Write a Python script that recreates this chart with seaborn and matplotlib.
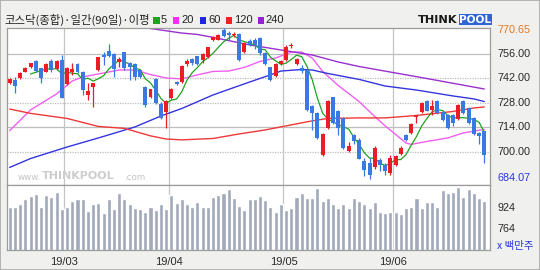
import numpy as np
import pandas as pd
import matplotlib
matplotlib.use("Agg")
import matplotlib.pyplot as plt
import matplotlib.transforms as mtransforms
from matplotlib.patches import Rectangle
import seaborn as sns

# ---------------- data ----------------
opens = [739.2, 741.1, 742.4, 745.9, 748.7, 752.0, 747.8, 745.9, 752.0, 747.2,
         752.6, 738.6, 745.9, 750.3, 745.9, 732.5, 736.9, 746.8, 755.4, 757.9,
         756.0, 751.6, 757.0, 750.6, 750.3, 746.8, 737.3, 731.5, 741.5, 727.3,
         722.9, 730.6, 740.1, 740.1, 750.1, 752.9, 754.7, 752.7, 754.1, 764.2,
         764.2, 770.0, 768.0, 766.7, 767.5, 757.1, 763.6, 764.2, 765.2, 756.6,
         748.4, 743.2, 750.3, 752.7, 760.6, 750.3, 748.0, 747.0, 726.0, 722.1,
         697.9, 713.5, 731.1, 723.1, 719.3, 700.5, 709.3, 706.9, 694.4, 693.5,
         691.0, 695.4, 692.5, 687.7, 692.5, 698.6, 709.3, 710.7, 720.0, 722.7,
         729.2, 724.1, 729.2, 722.7, 721.2, 721.2, 718.9, 729.2, 725.0, 719.3,
         710.7, 711.6]
highs = [742.0, 743.0, 745.5, 748.4, 751.0, 752.3, 748.0, 750.8, 752.9, 752.5,
         755.4, 748.4, 750.6, 750.6, 746.2, 739.2, 739.5, 754.5, 757.3, 761.7,
         756.5, 754.5, 757.3, 751.5, 751.0, 747.2, 737.6, 736.0, 742.0, 728.7,
         729.6, 736.2, 740.5, 749.7, 752.9, 753.5, 755.0, 756.3, 760.2, 766.2,
         767.6, 770.65, 769.0, 768.6, 768.0, 762.9, 764.6, 765.0, 765.6, 757.0,
         748.8, 750.8, 752.5, 761.4, 762.5, 753.7, 749.9, 747.6, 726.5, 722.5,
         710.5, 729.6, 731.5, 724.1, 719.8, 705.6, 710.1, 707.5, 696.3, 696.3,
         703.0, 696.5, 693.5, 698.0, 698.0, 703.0, 710.0, 716.4, 721.0, 728.5,
         729.6, 729.8, 729.6, 723.1, 721.6, 721.6, 727.3, 729.8, 725.4, 719.8,
         711.2, 712.0]
lows = [738.5, 733.4, 741.7, 745.5, 747.8, 745.9, 739.6, 745.5, 745.9, 746.8,
        730.6, 738.2, 744.0, 745.0, 732.5, 729.6, 725.8, 746.4, 749.7, 754.5,
        743.0, 748.4, 747.0, 741.1, 741.1, 742.0, 725.8, 731.0, 727.5, 718.5,
        713.4, 730.0, 738.0, 739.2, 749.1, 749.7, 749.5, 750.8, 753.5, 763.5,
        763.8, 765.8, 764.2, 765.6, 752.2, 756.5, 760.5, 758.9, 755.4, 749.7,
        740.3, 742.6, 749.5, 752.0, 759.5, 749.7, 745.1, 723.5, 712.6, 707.2,
        697.5, 712.8, 715.8, 709.7, 701.5, 700.0, 704.6, 695.5, 685.8, 684.07,
        690.0, 689.0, 686.5, 686.5, 691.5, 698.0, 706.0, 710.1, 716.4, 722.1,
        723.0, 721.2, 721.5, 717.7, 712.8, 714.5, 718.3, 721.5, 715.8, 709.5,
        704.2, 693.5]
closes = [741.7, 737.6, 744.9, 747.8, 750.6, 746.4, 742.4, 750.3, 746.8, 752.0,
          730.9, 747.8, 747.2, 745.5, 735.3, 734.8, 739.2, 754.1, 754.1, 754.8,
          747.2, 752.9, 747.8, 748.7, 743.0, 742.6, 726.7, 735.7, 728.1, 719.1,
          729.0, 735.7, 738.8, 749.1, 752.2, 750.6, 750.3, 756.0, 759.8, 765.6,
          767.1, 766.1, 766.7, 767.7, 752.7, 762.3, 761.4, 761.4, 756.6, 750.3,
          741.3, 750.3, 751.8, 759.8, 761.2, 753.3, 746.1, 724.1, 722.1, 707.8,
          710.1, 729.2, 716.4, 713.5, 702.1, 703.0, 705.9, 696.0, 689.6, 686.8,
          702.1, 692.5, 688.7, 696.3, 697.3, 702.1, 706.9, 715.8, 720.8, 727.9,
          723.5, 726.0, 722.1, 718.3, 713.5, 716.4, 726.9, 722.1, 716.4, 710.1,
          708.8, 698.2]
volumes = [931, 931, 949, 986, 1013, 1026, 931, 1018, 1005, 1038,
           914, 931, 974, 991, 986, 902, 949, 957, 882, 986,
           914, 1031, 986, 949, 924, 912, 890, 929, 907, 949,
           914, 1018, 957, 986, 949, 931, 966, 931, 931, 1005,
           1018, 1031, 1063, 998, 939, 907, 991, 991, 1013, 981,
           931, 894, 949, 907, 924, 1005, 1031, 998, 998, 1068,
           974, 998, 949, 924, 949, 924, 994, 974, 949, 924,
           966, 894, 882, 890, 890, 875, 924, 931, 994, 924,
           966, 966, 931, 1055, 1031, 1038, 1080, 1005, 1063, 1031,
           998, 970]

ma20_day = [0, 4, 9, 12, 14, 18, 21, 24, 27, 30, 33, 36, 39, 42, 45, 48, 51, 54,
            56, 58, 60, 63, 67, 70, 72, 74, 76, 77, 80, 84, 87, 91]
ma20_val = [712.0, 723.9, 733.1, 740.5, 742.8, 745.1, 746.8, 746.8, 744.2, 742.2,
            741.7, 744.0, 746.0, 746.2, 748.3, 751.7, 753.7, 757.1, 757.1, 753.7,
            746.0, 737.9, 728.7, 720.1, 714.7, 709.8, 704.9, 704.1, 705.8, 707.8,
            710.7, 712.7]
ma60_day = [0, 4, 11, 17, 24, 29, 33, 39, 46, 50, 52, 56, 58, 61, 67, 72, 78, 85, 89, 91]
ma60_val = [690.9, 696.0, 702.6, 707.8, 714.1, 720.4, 724.7, 732.5, 739.9, 744.0,
            746.2, 747.1, 746.8, 744.8, 741.4, 737.6, 735.3, 731.9, 730.2, 728.7]
ma120_day = [0, 4, 11, 17, 22, 27, 30, 33, 39, 44, 49, 54, 58, 61, 67, 72, 78, 85, 89, 91]
ma120_val = [724.4, 721.9, 719.0, 714.4, 713.3, 709.0, 707.2, 706.7, 707.5, 710.1,
             712.4, 715.3, 717.6, 719.0, 719.3, 719.3, 720.7, 723.0, 725.0, 725.6]
ma240_day = [24, 27, 33, 36, 39, 46, 52, 58, 63, 67, 80, 91]
ma240_val = [771.9, 770.6, 768.0, 767.2, 765.5, 761.2, 758.3, 755.4, 751.4, 748.8,
             741.9, 735.9]

price_ticks = [756, 742, 728, 714, 700]
vol_ticks = [924, 764]
month_labels = ["19/03", "19/04", "19/05", "19/06"]
month_first_day = [11, 31, 53, 74]

title_text = "코스닥(종합)·일간(90일)·이평"
ma_names = ["5", "20", "60", "120", "240"]
ma_colors = ["#1fa31f", "#ff2cff", "#2323e6", "#ee2222", "#9a1fd0"]

# ---------------- figure ----------------
sns.set_theme(style="white")
plt.rcParams["font.family"] = ["Noto Sans CJK KR", "DejaVu Sans"]

W, H = 540, 270
fig = plt.figure(figsize=(W / 100, H / 100), dpi=100)
fig.patch.set_facecolor("#f0f0ee")

def fx(px):
    return px / W

def fy(py):
    return 1 - py / H

L_PX, R_PX = 7, 490
ax = fig.add_axes([fx(L_PX), fy(185), fx(R_PX) - fx(L_PX), (185 - 28) / H])
axv = fig.add_axes([fx(L_PX), fy(250), fx(R_PX) - fx(L_PX), (250 - 185) / H])
for a in (ax, axv):
    a.set_facecolor("white")
    for s in a.spines.values():
        s.set_color("#9c9c9c")
        s.set_linewidth(0.9)

days = np.arange(len(closes))
o = np.array(opens); c = np.array(closes); h = np.array(highs); l = np.array(lows)
up = c >= o
RED, BLUE = "#ec1c24", "#3a78e2"
cols = np.where(up, RED, BLUE)

# grid
for i, t in enumerate(price_ticks):
    ax.axhline(t, color="#bdbdbd", lw=0.9, ls="-" if i in (0, 3) else (0, (1, 1)), zorder=0)
for d in month_first_day:
    ax.axvline(d - 0.5, color="#c4c4c4", lw=0.9, zorder=0)
    axv.axvline(d - 0.5, color="#c4c4c4", lw=0.9, zorder=0)

# moving averages
ma5 = pd.Series(closes).rolling(5).mean()
sns.lineplot(x=days, y=ma5.values, ax=ax, color=ma_colors[0], lw=0.9, zorder=2)
sns.lineplot(x=ma20_day, y=ma20_val, ax=ax, color="#f060f0", lw=1.0, zorder=1.5)
sns.lineplot(x=ma60_day, y=ma60_val, ax=ax, color="#3535e0", lw=1.0, zorder=1.5)
sns.lineplot(x=ma120_day, y=ma120_val, ax=ax, color="#f03838", lw=1.0, zorder=1.5)
sns.lineplot(x=ma240_day, y=ma240_val, ax=ax, color="#9a30d0", lw=1.0, zorder=1.5)

# candles
ax.vlines(days, l, h, colors=cols, lw=0.9, zorder=3)
body_lo = np.minimum(o, c)
body_h = np.maximum(np.abs(c - o), 0.6)
ax.bar(days[up], body_h[up], bottom=body_lo[up], width=0.76, color=RED,
       edgecolor=RED, lw=0, zorder=4)
ax.bar(days[~up], body_h[~up], bottom=body_lo[~up], width=0.76, color=BLUE,
       edgecolor=BLUE, lw=0, zorder=4)

ax.set_xlim(-0.52, 92.1)
ax.set_ylim(680.8, 770.9)

# volume
sns.barplot(x=days, y=volumes, ax=axv, native_scale=True, color="#a2a9bb",
            saturation=1, width=0.78, errorbar=None, zorder=2)
axv.set_xlim(-0.52, 92.1)
axv.set_ylim(611, 1092)

for a in (ax, axv):
    a.set_xticks([]); a.set_yticks([])
    a.set_xlabel(""); a.set_ylabel("")
    a.legend_ = None

# ---------------- text ----------------
tr_p = mtransforms.blended_transform_factory(fig.transFigure, ax.transData)
tr_v = mtransforms.blended_transform_factory(fig.transFigure, axv.transData)
tr_x = mtransforms.blended_transform_factory(ax.transData, fig.transFigure)
lab_kw = dict(family="Liberation Sans", fontsize=7.8, va="center", ha="left")

fig.text(fx(497), fy(30), f"{max(highs):.2f}", color="#e8761c", **lab_kw)
for t in price_ticks:
    fig.text(fx(497), t, f"{t:.2f}", color="#2a2a2a", transform=tr_p, **lab_kw)
fig.text(fx(497), fy(178), f"{min(lows):.2f}", color="#2b35e0", **lab_kw)
for t in vol_ticks:
    fig.text(fx(497), t, f"{t}", color="#2a2a2a", transform=tr_v, **lab_kw)
fig.text(fx(497), fy(246), "x 백만주", color="#2b35e0", fontsize=7.5,
         va="center", ha="left")

for d, lab in zip(month_first_day, month_labels):
    fig.text(d - 0.5, fy(262), lab, transform=tr_x, ha="center", va="center",
             family="Liberation Sans", fontsize=8, color="#2a2a2a")

# title and legend
fig.text(fx(4), fy(20), title_text, fontsize=8.2, va="center", ha="left", color="#222222")
sq_x = [153, 172.5, 199.5, 225.5, 257.5]
tx_x = [160.5, 181.5, 208.5, 234, 265.5]
for sx, txx, name, col in zip(sq_x, tx_x, ma_names, ma_colors):
    fig.patches.append(Rectangle((fx(sx), fy(23.5)), 6.5 / W, 6.5 / H,
                                 transform=fig.transFigure, color=col, lw=0))
    fig.text(fx(txx), fy(20), name, family="Liberation Sans", fontsize=8,
             va="center", ha="left", color="#222222")

# logo
fig.text(fx(418), fy(20), "THINK", family="DejaVu Sans", fontweight="bold",
         fontsize=8.2, va="center", ha="left", color="#1a1a1a")
fig.patches.append(Rectangle((fx(459), fy(25)), 33 / W, 11 / H,
                             transform=fig.transFigure, color="#2f66d6", lw=0))
fig.text(fx(475.5), fy(19.7), "POOL", family="DejaVu Sans", fontweight="bold",
         fontsize=7.6, va="center", ha="center", color="white")

# watermark
fig.text(fx(40.5), fy(177), "www.", family="DejaVu Sans", fontsize=6.3,
         va="center", ha="right", color="#c4c4c4")
fig.text(fx(41.5), fy(176), "THINKPOOL", family="DejaVu Sans", fontweight="bold",
         fontsize=8.0, va="center", ha="left", color="#cdcdcd")
fig.text(fx(124), fy(177), ".com", family="DejaVu Sans", fontsize=6.3,
         va="center", ha="left", color="#c4c4c4")

# outer border
fig.patches.append(Rectangle((0, 0), 1, 1, transform=fig.transFigure,
                             fill=False, edgecolor="#a8a8a8", lw=1.2))

fig.savefig("out.png", dpi=100, facecolor=fig.get_facecolor())
